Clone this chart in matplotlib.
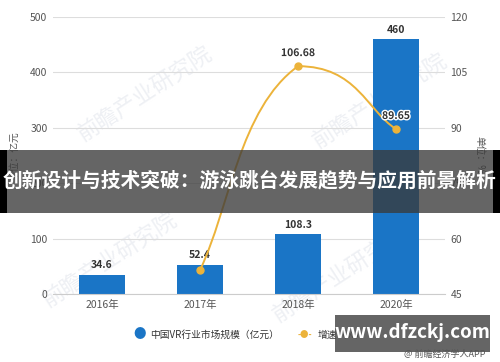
import matplotlib
matplotlib.use('Agg')
import matplotlib.pyplot as plt
from matplotlib.path import Path
from matplotlib.patches import PathPatch, Rectangle
import matplotlib.patheffects as pe

plt.rcParams['font.family'] = ['Noto Sans CJK SC', 'DejaVu Sans']

# data
years = ['2016年', '2017年', '2018年', '2020年']
market_size = [34.6, 52.4, 108.3, 460]
growth_years = [1, 2, 3]
growth = [51.45, 106.68, 89.65]

left_ticks = [0, 100, 200, 300, 400, 500]
right_ticks = [45, 60, 75, 90, 105, 120]

bar_color = '#1a75c6'
line_color = '#ecb33a'
tick_color = '#555555'

fig = plt.figure(figsize=(5, 3.62), dpi=100)
ax = fig.add_axes([0.106, 0.188, 0.784, 0.765])
ax2 = ax.twinx()
ax.patch.set_visible(False)
ax2.patch.set_visible(False)

x = list(range(len(years)))
ax.bar(x, market_size, width=0.46, color=bar_color, zorder=2)
for xi, v in zip(x, market_size):
    ax.text(xi, v + 8, f'{v:g}', ha='center', va='bottom', fontsize=7.5,
            fontweight='bold', color='#333333', zorder=5)

ax.set_xlim(-0.5, len(years) - 0.5)
ax.set_ylim(0, 500)
ax.set_yticks(left_ticks)
ax.set_xticks(x)
ax.set_xticklabels(years)
ax.grid(axis='y', color='#dddddd', linewidth=0.8, zorder=0)
ax.set_axisbelow(True)
for s in ['top', 'right', 'left']:
    ax.spines[s].set_visible(False)
ax.spines['bottom'].set_color('#cccccc')
ax.tick_params(axis='both', length=0, labelsize=7.5, colors=tick_color, pad=4)
ax.set_ylabel('单位：亿元', fontsize=7, color=tick_color, labelpad=8)

# smooth growth line (bezier through the data points)
ax2.set_ylim(45, 120)
ax2.set_yticks(right_ticks)
for s in ax2.spines.values():
    s.set_visible(False)
ax2.tick_params(axis='y', length=0, labelsize=7.5, colors=tick_color, pad=4)
ax2.set_ylabel('单位：%', fontsize=7, color=tick_color, rotation=-90, labelpad=12)

pts = list(zip(growth_years, growth))
ymin, ymax = min(growth), max(growth)
k = 0.3
verts = [pts[0]]
codes = [Path.MOVETO]
for i in range(len(pts) - 1):
    p0 = pts[i - 1] if i > 0 else pts[i]
    p1 = pts[i]
    p2 = pts[i + 1]
    p3 = pts[i + 2] if i + 2 < len(pts) else pts[i + 1]
    c1 = (p1[0] + (p2[0] - p0[0]) * k, min(max(p1[1] + (p2[1] - p0[1]) * k, ymin), ymax))
    c2 = (p2[0] - (p3[0] - p1[0]) * k, min(max(p2[1] - (p3[1] - p1[1]) * k, ymin), ymax))
    verts += [c1, c2, p2]
    codes += [Path.CURVE4] * 3
ax2.add_patch(PathPatch(Path(verts, codes), facecolor='none', edgecolor=line_color,
                        linewidth=1.4, zorder=3))
ax2.plot(growth_years, growth, 'o', color=line_color, markersize=5, zorder=4)
for gx, gv in zip(growth_years[1:], growth[1:]):
    ax2.text(gx, gv + 2.2, f'{gv:g}', ha='center', va='bottom', fontsize=7.5,
             fontweight='bold', color='#333333', zorder=5,
             path_effects=[pe.withStroke(linewidth=2, foreground='white')])

# faint watermark, behind the axes content
for wx, wy in [(0.29, 0.74), (0.76, 0.72), (0.22, 0.28), (0.68, 0.24)]:
    fig.text(wx, wy, '前瞻产业研究院', fontsize=16, color='#eef0f4', rotation=33,
             ha='center', va='center', zorder=-1)

# legend
fig.text(0.28, 0.075, '●', color=bar_color, fontsize=9, ha='center', va='center')
fig.text(0.30, 0.075, '中国VR行业市场规模（亿元）', color='#333333', fontsize=7, va='center')
fig.text(0.61, 0.075, '-●-', color=line_color, fontsize=6, ha='center', va='center',
         fontweight='bold')
fig.text(0.635, 0.075, '增速（%）', color='#333333', fontsize=7, va='center')

# title band overlay
fig.patches.append(Rectangle((0, 1 - 213 / 362), 1, 63 / 362, transform=fig.transFigure,
                             facecolor='#3a3a3a', alpha=0.78, edgecolor='none', zorder=10))
fig.patches.append(Rectangle((0, 1 - 213 / 362), 0.014, 63 / 362, transform=fig.transFigure,
                             facecolor='black', edgecolor='none', zorder=11))
fig.patches.append(Rectangle((0.986, 1 - 213 / 362), 0.014, 63 / 362, transform=fig.transFigure,
                             facecolor='black', edgecolor='none', zorder=11))
fig.text(0.5, 1 - 181 / 362, '创新设计与技术突破：游泳跳台发展趋势与应用前景解析',
         color='white', fontsize=14.2, fontweight='bold', ha='center', va='center', zorder=12)

# site watermark box
fig.patches.append(Rectangle((335 / 500, 1 - 352 / 362), 155 / 500, 37 / 362,
                             transform=fig.transFigure, facecolor='#4a4a4a', alpha=0.85,
                             edgecolor='none', zorder=10))
fig.text(412 / 500, 1 - 332 / 362, 'www.dfzckj.com', color='white', fontsize=13.5,
         fontweight='bold', ha='center', va='center', zorder=12)
fig.text(445 / 500, 1 - 354 / 362, '@ 前瞻经济学人APP', color='#555555', fontsize=6.5,
         ha='center', va='center', zorder=12)

fig.savefig('out.png', dpi=100)
